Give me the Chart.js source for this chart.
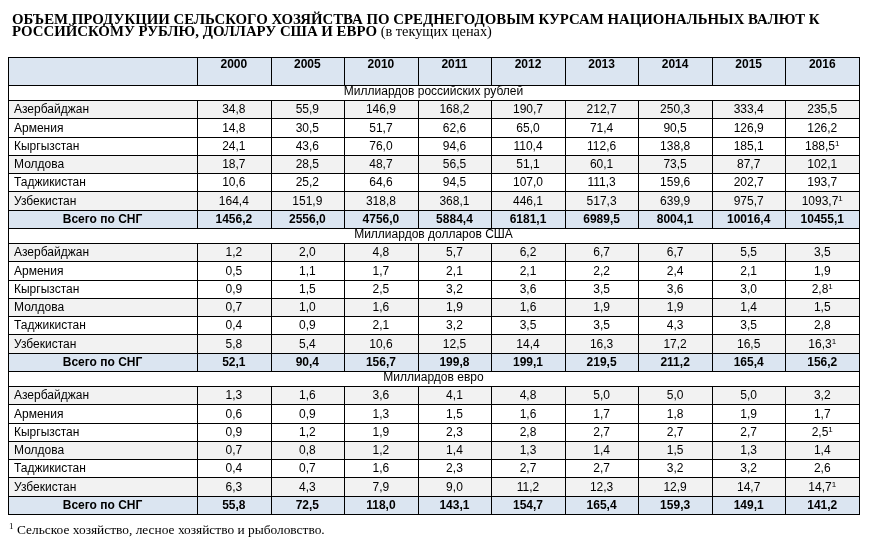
<!DOCTYPE html>
<html>
<head>
<meta charset="utf-8">
<script src="https://cdn.jsdelivr.net/npm/chart.js@4"></script>
<style>
  html, body { margin: 0; padding: 0; background: #fff; }
  #wrap { width: 872px; height: 549px; position: relative; }
</style>
</head>
<body>
<div id="wrap"><canvas id="tbl"></canvas></div>
<script>
const years = ['2000', '2005', '2010', '2011', '2012', '2013', '2014', '2015', '2016'];
const countries = ['Азербайджан', 'Армения', 'Кыргызстан', 'Молдова', 'Таджикистан', 'Узбекистан'];
const totalLabel = 'Всего по СНГ';
const unitLabels = ['Миллиардов российских рублей', 'Миллиардов долларов США', 'Миллиардов евро'];

const rub = [
  [34.8, 55.9, 146.9, 168.2, 190.7, 212.7, 250.3, 333.4, 235.5],
  [14.8, 30.5, 51.7, 62.6, 65.0, 71.4, 90.5, 126.9, 126.2],
  [24.1, 43.6, 76.0, 94.6, 110.4, 112.6, 138.8, 185.1, 188.5],
  [18.7, 28.5, 48.7, 56.5, 51.1, 60.1, 73.5, 87.7, 102.1],
  [10.6, 25.2, 64.6, 94.5, 107.0, 111.3, 159.6, 202.7, 193.7],
  [164.4, 151.9, 318.8, 368.1, 446.1, 517.3, 639.9, 975.7, 1093.7]
];
const rubTotal = [1456.2, 2556.0, 4756.0, 5884.4, 6181.1, 6989.5, 8004.1, 10016.4, 10455.1];

const usd = [
  [1.2, 2.0, 4.8, 5.7, 6.2, 6.7, 6.7, 5.5, 3.5],
  [0.5, 1.1, 1.7, 2.1, 2.1, 2.2, 2.4, 2.1, 1.9],
  [0.9, 1.5, 2.5, 3.2, 3.6, 3.5, 3.6, 3.0, 2.8],
  [0.7, 1.0, 1.6, 1.9, 1.6, 1.9, 1.9, 1.4, 1.5],
  [0.4, 0.9, 2.1, 3.2, 3.5, 3.5, 4.3, 3.5, 2.8],
  [5.8, 5.4, 10.6, 12.5, 14.4, 16.3, 17.2, 16.5, 16.3]
];
const usdTotal = [52.1, 90.4, 156.7, 199.8, 199.1, 219.5, 211.2, 165.4, 156.2];

const eur = [
  [1.3, 1.6, 3.6, 4.1, 4.8, 5.0, 5.0, 5.0, 3.2],
  [0.6, 0.9, 1.3, 1.5, 1.6, 1.7, 1.8, 1.9, 1.7],
  [0.9, 1.2, 1.9, 2.3, 2.8, 2.7, 2.7, 2.7, 2.5],
  [0.7, 0.8, 1.2, 1.4, 1.3, 1.4, 1.5, 1.3, 1.4],
  [0.4, 0.7, 1.6, 2.3, 2.7, 2.7, 3.2, 3.2, 2.6],
  [6.3, 4.3, 7.9, 9.0, 11.2, 12.3, 12.9, 14.7, 14.7]
];
const eurTotal = [55.8, 72.5, 118.0, 143.1, 154.7, 165.4, 159.3, 149.1, 141.2];

// cells carrying footnote 1
const footnoted = ['Кыргызстан|2016', 'Узбекистан|2016'];

const titleBold1 = 'ОБЪЕМ ПРОДУКЦИИ СЕЛЬСКОГО ХОЗЯЙСТВА ПО СРЕДНЕГОДОВЫМ КУРСАМ НАЦИОНАЛЬНЫХ ВАЛЮТ К';
const titleBold2 = 'РОССИЙСКОМУ РУБЛЮ, ДОЛЛАРУ США И ЕВРО';
const titleNote = '(в текущих ценах)';
const footnoteText = 'Сельское хозяйство, лесное хозяйство и рыболовство.';

// --- layout / style ---
const LABEL_COL = 2.57;   // first column width in year-column units
const HEAD_H = 1.53, UNIT_H = 0.82, ROW_H = 1;
const shadedRows = ['Азербайджан', 'Молдова', 'Узбекистан'];
const BLUE = '#dbe5f1', GRAY = '#f2f2f2';
const SANS = '"Liberation Sans", Arial, sans-serif';
const SERIF = '"Liberation Serif", "Times New Roman", serif';

const sections = [
  { label: unitLabels[0], rows: rub, total: rubTotal },
  { label: unitLabels[1], rows: usd, total: usdTotal },
  { label: unitLabels[2], rows: eur, total: eurTotal }
];

// row list in y-scale units
const tableRows = [];
let pos = 0;
tableRows.push({ kind: 'head', y0: pos, y1: pos + HEAD_H }); pos += HEAD_H;
sections.forEach(sec => {
  tableRows.push({ kind: 'unit', text: sec.label, y0: pos, y1: pos + UNIT_H }); pos += UNIT_H;
  sec.rows.forEach((vals, i) => {
    tableRows.push({ kind: 'data', name: countries[i], vals, y0: pos, y1: pos + ROW_H }); pos += ROW_H;
  });
  tableRows.push({ kind: 'total', name: totalLabel, vals: sec.total, y0: pos, y1: pos + ROW_H }); pos += ROW_H;
});
const tableH = pos;

const fmt = v => v.toFixed(1).replace('.', ',');

const tablePlugin = {
  id: 'table',
  afterDraw(chart) {
    const { ctx, scales: { x, y } } = chart;
    const px = v => Math.round(x.getPixelForValue(v));
    const py = v => Math.round(y.getPixelForValue(v));
    const left = px(-LABEL_COL), right = px(years.length);
    ctx.save();

    // title: sized so the first line runs to the same place as in the original
    ctx.fillStyle = '#000';
    ctx.textBaseline = 'alphabetic';
    ctx.textAlign = 'left';
    ctx.font = 'bold 14px ' + SERIF;
    const tSize = 14 * 808 / ctx.measureText(titleBold1).width;
    ctx.font = 'bold ' + tSize.toFixed(2) + 'px ' + SERIF;
    ctx.fillText(titleBold1, 12, 24);
    ctx.fillText(titleBold2 + ' ', 12, 36);
    const w2 = ctx.measureText(titleBold2 + ' ').width;
    ctx.font = (tSize - 0.5).toFixed(2) + 'px ' + SERIF;
    ctx.fillText(titleNote, 12 + w2, 36);

    // backgrounds
    tableRows.forEach(r => {
      let bg = null;
      if (r.kind === 'head' || r.kind === 'total') bg = BLUE;
      else if (r.kind === 'data' && shadedRows.includes(r.name)) bg = GRAY;
      if (bg) {
        ctx.fillStyle = bg;
        ctx.fillRect(left, py(r.y0), right - left, py(r.y1) - py(r.y0));
      }
    });

    // grid
    ctx.strokeStyle = '#000';
    ctx.lineWidth = 1;
    ctx.beginPath();
    tableRows.forEach(r => {
      const y0 = py(r.y0), y1 = py(r.y1);
      ctx.moveTo(left, y0 + 0.5); ctx.lineTo(right + 1, y0 + 0.5);
      const cols = r.kind === 'unit' ? [-LABEL_COL, years.length] : [-LABEL_COL, ...years.map((_, i) => i), years.length];
      cols.forEach(c => {
        const xx = px(c) + 0.5;
        ctx.moveTo(xx, y0); ctx.lineTo(xx, y1 + 1);
      });
    });
    ctx.moveTo(left, py(tableH) + 0.5); ctx.lineTo(right + 1, py(tableH) + 0.5);
    ctx.stroke();

    // texts
    ctx.fillStyle = '#000';
    tableRows.forEach(r => {
      const y0 = py(r.y0), y1 = py(r.y1);
      if (r.kind === 'head') {
        ctx.font = 'bold 12px ' + SANS;
        ctx.textAlign = 'center';
        years.forEach((yr, i) => ctx.fillText(yr, x.getPixelForValue(i + 0.5), y0 + 11));
        return;
      }
      const base = y1 - 5;
      if (r.kind === 'unit') {
        ctx.font = '12px ' + SANS;
        ctx.textAlign = 'center';
        ctx.fillText(r.text, (left + right) / 2, base);
        return;
      }
      const bold = r.kind === 'total';
      ctx.font = (bold ? 'bold ' : '') + '12px ' + SANS;
      if (bold) {
        ctx.textAlign = 'center';
        ctx.fillText(r.name, x.getPixelForValue(-LABEL_COL / 2), base);
      } else {
        ctx.textAlign = 'left';
        ctx.fillText(r.name, left + 6, base);
      }
      r.vals.forEach((v, i) => {
        const s = fmt(v);
        const cx = x.getPixelForValue(i + 0.5);
        ctx.font = (bold ? 'bold ' : '') + '12px ' + SANS;
        if (footnoted.includes(r.name + '|' + years[i])) {
          const sw = ctx.measureText(s).width;
          ctx.font = '8px ' + SANS;
          const mw = ctx.measureText('1').width;
          const x0 = cx - (sw + mw) / 2;
          ctx.textAlign = 'left';
          ctx.fillText('1', x0 + sw, base - 4);
          ctx.font = (bold ? 'bold ' : '') + '12px ' + SANS;
          ctx.fillText(s, x0, base);
        } else {
          ctx.textAlign = 'center';
          ctx.fillText(s, cx, base);
        }
      });
    });

    // footnote
    ctx.textAlign = 'left';
    ctx.font = '9px ' + SERIF;
    ctx.fillText('1', 9, 529);
    ctx.font = '13.4px ' + SERIF;
    ctx.fillText(footnoteText, 17, 534);
    ctx.restore();
  }
};

new Chart(document.getElementById('tbl'), {
  type: 'scatter',
  data: { datasets: [] },
  options: {
    responsive: true,
    maintainAspectRatio: false,
    animation: false,
    events: [],
    layout: { padding: { left: 8, top: 57, right: 13, bottom: 35 } },
    plugins: { legend: { display: false }, tooltip: { enabled: false }, title: { display: false } },
    scales: {
      x: { type: 'linear', display: false, min: -LABEL_COL, max: years.length },
      y: { type: 'linear', display: false, reverse: true, min: 0, max: tableH }
    }
  },
  plugins: [tablePlugin]
});
</script>
</body>
</html>
